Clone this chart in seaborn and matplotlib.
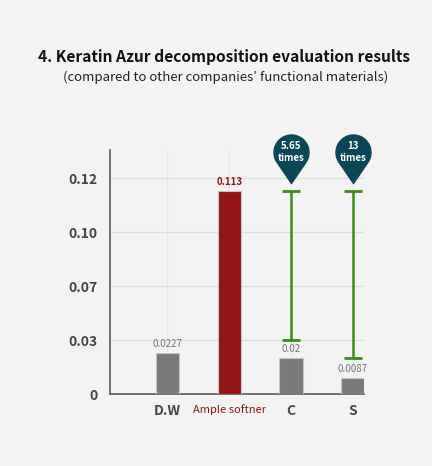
import numpy as np
import matplotlib
matplotlib.use("Agg")
import matplotlib.pyplot as plt
from matplotlib.path import Path
import seaborn as sns

# data
categories = ["D.W", "Ample softner", "C", "S"]
values = [0.0227, 0.113, 0.02, 0.0087]
value_labels = ["0.0227", "0.113", "0.02", "0.0087"]
ytick_values = [0, 0.03, 0.06, 0.09, 0.12]
ytick_labels = ["0", "0.03", "0.07", "0.10", "0.12"]
range_cats = ["C", "S"]
range_high = [0.113, 0.113]
range_low = [0.03, 0.02]
range_text = ["5.65\ntimes", "13\ntimes"]

GREY = "#7a7a7a"
RED = "#931616"
TEAL = "#0b4656"
GREEN = "#3b8c1c"
BG = "#f3f3f3"

sns.set_theme(style="white")
plt.rcParams["font.family"] = ["Noto Sans CJK KR", "DejaVu Sans"]


def pin_marker():
    """Map pin shape with the tip at the origin."""
    r, d = 17.5, 31.0
    half = np.degrees(np.arccos(r / d))
    angles = np.radians(np.linspace(-90 + half, 270 - half, 60))
    verts = [(0, 0)] + [(r * np.cos(a), d + r * np.sin(a)) for a in angles] + [(0, 0)]
    codes = [Path.MOVETO] + [Path.LINETO] * (len(verts) - 2) + [Path.CLOSEPOLY]
    return Path(verts, codes)


fig = plt.figure(figsize=(4.32, 4.66), dpi=100, facecolor=BG)
ax = fig.add_axes([0.2546, 0.1545, 0.588, 0.5235], facecolor=BG)

colors = [GREY, RED, GREY, GREY]
sns.barplot(x=categories, y=values, hue=categories, palette=colors, legend=False,
            saturation=1, width=0.38, edgecolor="#c4c4c4", linewidth=0.8,
            ax=ax, zorder=3)

xpos = {c: i for i, c in enumerate(categories)}

for i, (v, lab) in enumerate(zip(values, value_labels)):
    is_red = categories[i] == "Ample softner"
    ax.annotate(lab, (i, v), xytext=(0, 3), textcoords="offset points",
                ha="center", va="bottom", fontsize=7,
                color=RED if is_red else "#777777",
                fontweight="bold" if is_red else "normal")

# comparison ranges with pins
for c, hi, lo, txt in zip(range_cats, range_high, range_low, range_text):
    x = xpos[c]
    ax.vlines(x, lo, hi, color=GREEN, lw=1.8, zorder=4)
    ax.hlines([lo, hi], x - 0.14, x + 0.14, color=GREEN, lw=2, zorder=4)
    tip = hi + 0.0045
    ax.plot([x], [tip], marker=pin_marker(), markersize=69.8, color=TEAL,
            linestyle="none", zorder=5, clip_on=False)
    ax.annotate(txt, (x, tip), xytext=(0, 22.3), textcoords="offset points",
                ha="center", va="center", fontsize=7, color="white",
                fontweight="bold", linespacing=1.25, zorder=6, annotation_clip=False)

ax.set_xlim(-0.93, 3.18)
ax.set_ylim(0, 0.1356)
ax.set_yticks(ytick_values)
ax.set_yticklabels(ytick_labels)
ax.set_xlabel("")
ax.set_ylabel("")

ax.grid(True, axis="y", color="#dcdcdc", lw=0.9, zorder=0)
ax.grid(True, axis="x", color="#e6e6e6", lw=0.8, zorder=0)
ax.set_axisbelow(True)
for s in ["top", "right"]:
    ax.spines[s].set_visible(False)
for s in ["left", "bottom"]:
    ax.spines[s].set_color("#666666")
    ax.spines[s].set_linewidth(1.3)

ax.tick_params(axis="both", length=0)
ax.tick_params(axis="y", pad=9, labelsize=10, labelcolor="#444444")
ax.tick_params(axis="x", pad=7, labelsize=10, labelcolor="#444444")
for t in ax.get_yticklabels():
    t.set_fontweight("bold")
for t in ax.get_xticklabels():
    if t.get_text() == "Ample softner":
        t.set_color(RED)
        t.set_fontsize(8)
    else:
        t.set_fontweight("bold")

fig.text(0.519, 0.877, "4. Keratin Azur decomposition evaluation results",
         ha="center", va="center", fontsize=11.2, fontweight="bold", color="#111111")
fig.text(0.523, 0.833, "(compared to other companies\u2019 functional materials)",
         ha="center", va="center", fontsize=9.5, color="#222222")

fig.savefig("out.png", dpi=100, facecolor=BG)
